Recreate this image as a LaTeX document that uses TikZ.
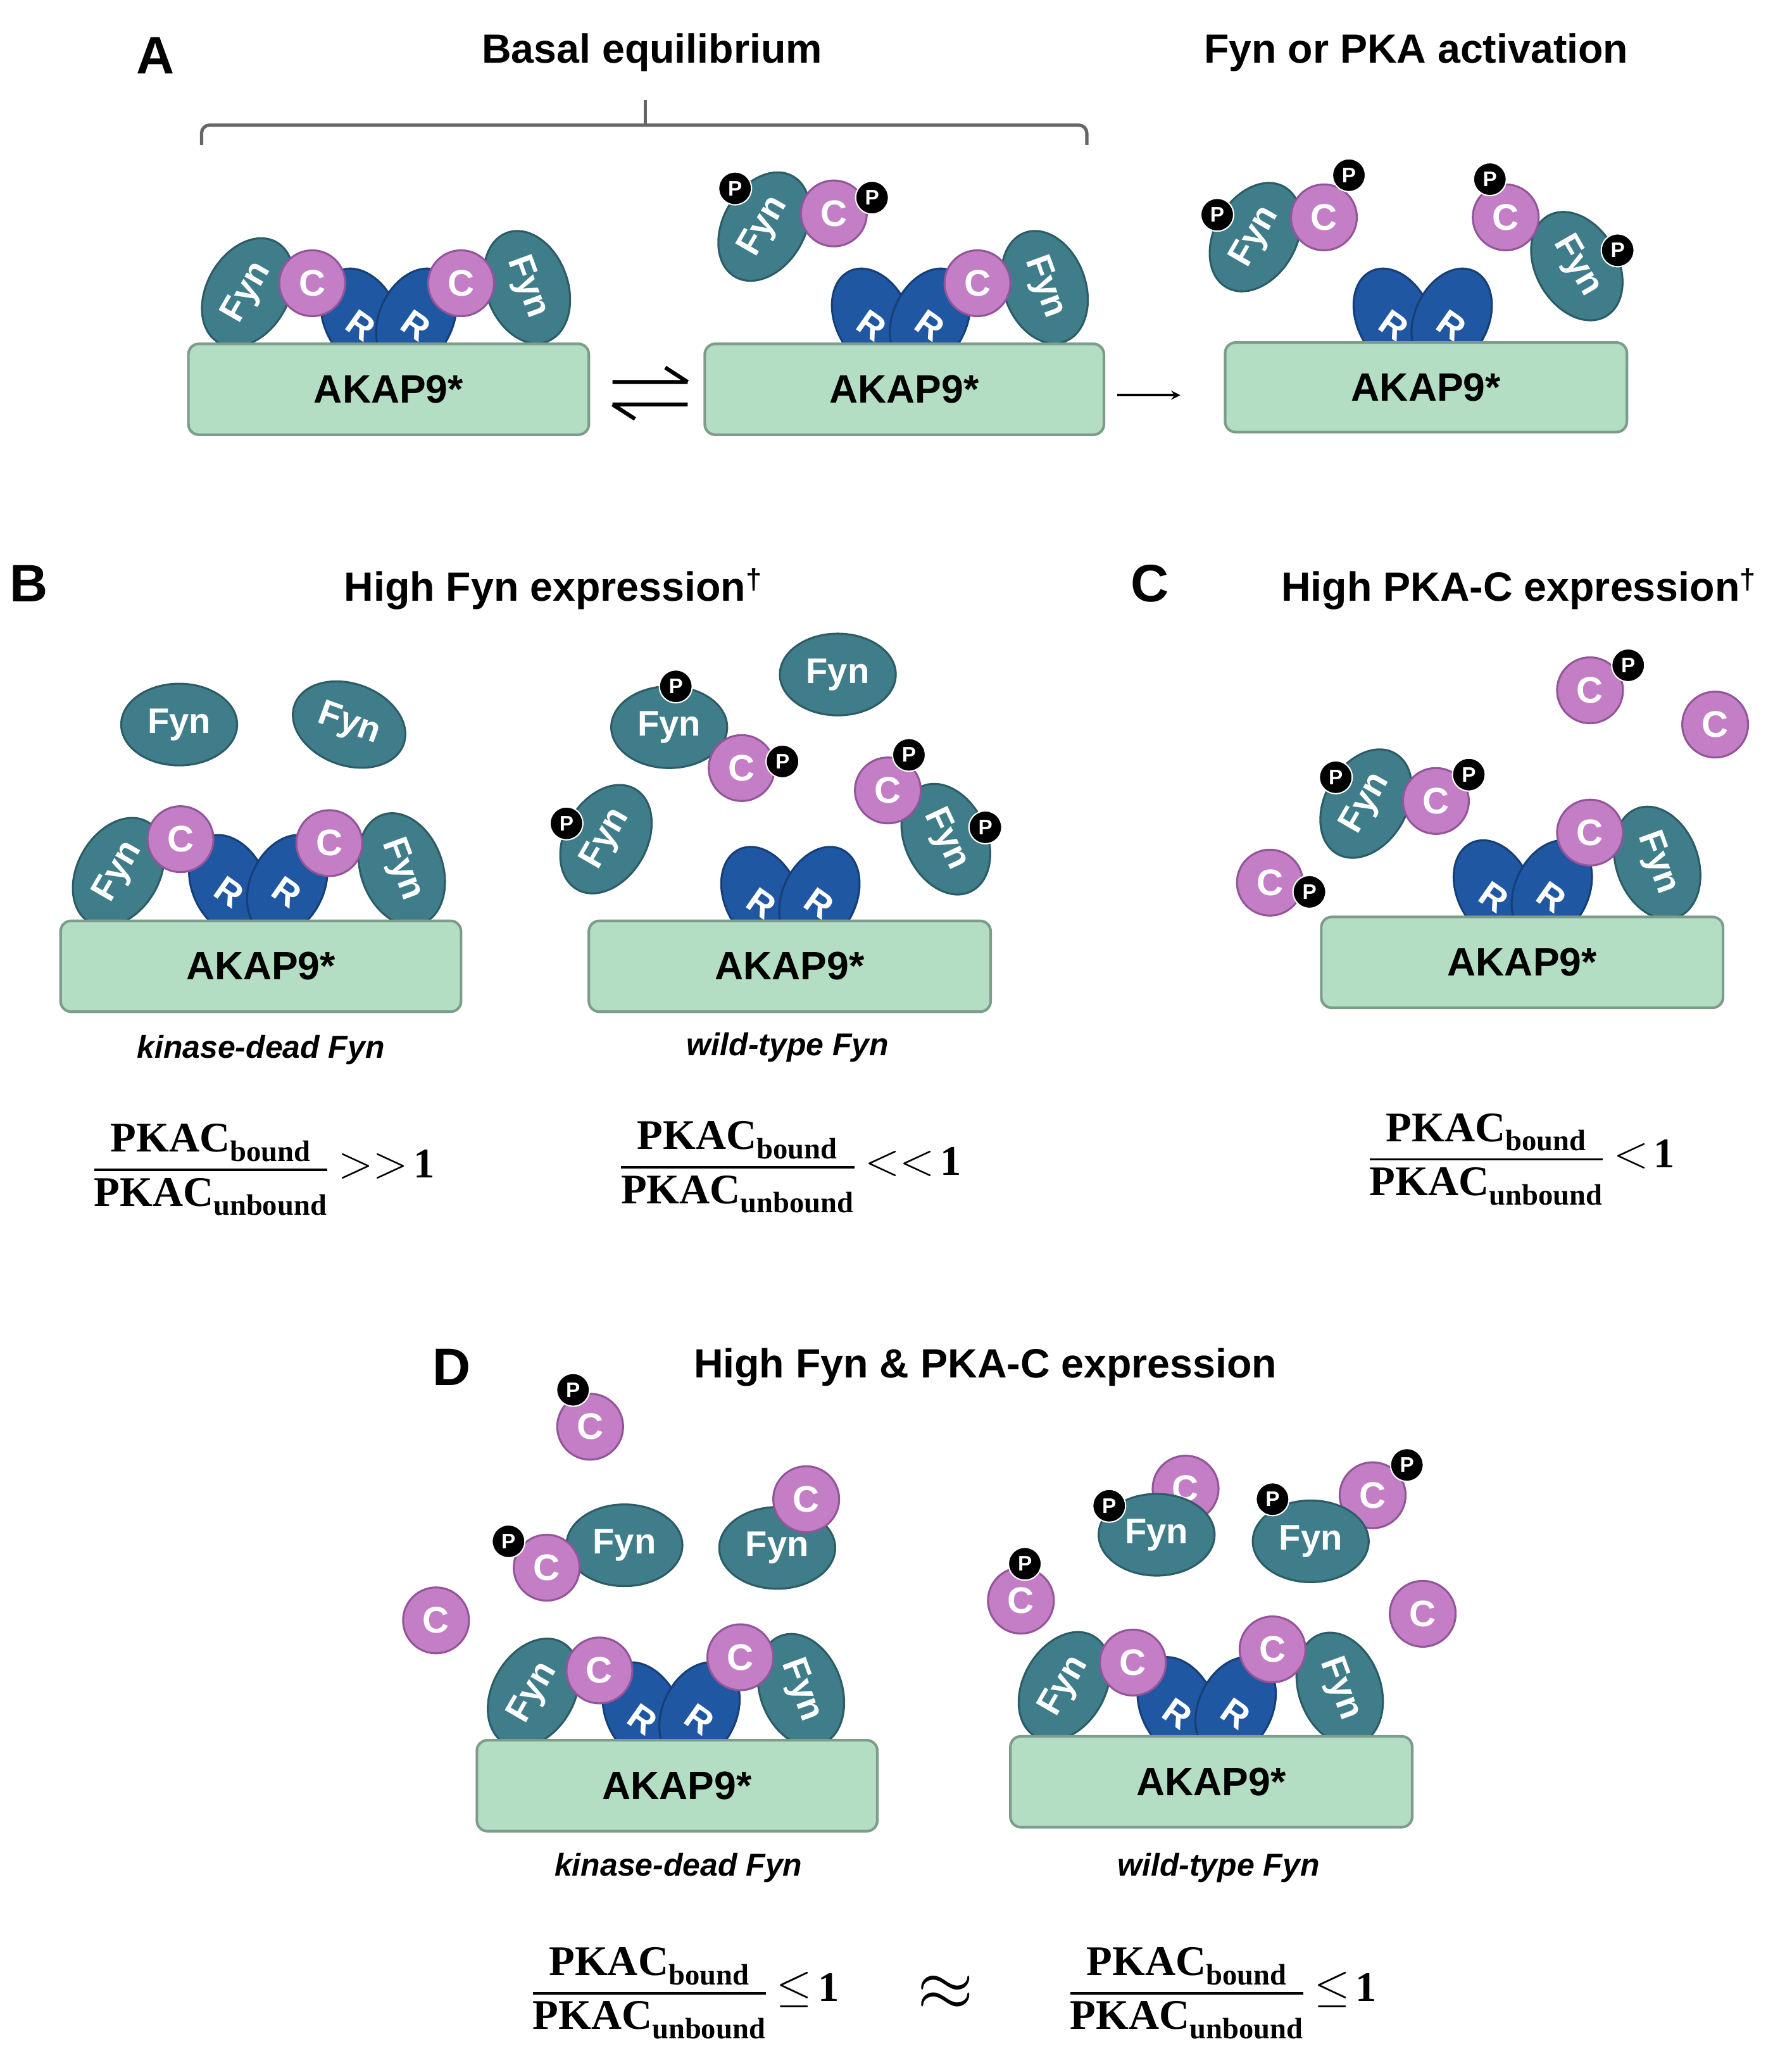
\documentclass[tikz,border=0pt]{standalone}
\usepackage{fontspec}
\setmainfont{Liberation Sans}
\newfontfamily\serifb{Liberation Serif}[BoldFont=* Bold]
\usetikzlibrary{shapes.geometric}
\definecolor{fync}{HTML}{3E7D89}
\definecolor{fynb}{HTML}{2C5C66}
\definecolor{cc}{HTML}{C47EC6}
\definecolor{cb}{HTML}{93559A}
\definecolor{rc}{HTML}{1F57A3}
\definecolor{rb}{HTML}{163F78}
\definecolor{boxc}{HTML}{B3DEC4}
\definecolor{boxb}{HTML}{7E9C8A}
\tikzset{
 fyn/.style={ellipse,fill=fync,draw=fynb,line width=1.5pt,minimum width=88pt,minimum height=62pt,inner sep=0pt,text=white,font=\fontsize{27}{30}\selectfont\bfseries},
 cprot/.style={circle,fill=cc,draw=cb,line width=1.5pt,minimum size=50pt,inner sep=0pt,text=white,font=\fontsize{28}{30}\selectfont\bfseries},
 rprot/.style={ellipse,fill=rc,draw=rb,line width=1.5pt,minimum width=56pt,minimum height=80pt,inner sep=0pt},
 rlab/.style={text=white,font=\fontsize{27}{30}\selectfont\bfseries,rotate=-35},
 pprot/.style={circle,fill=black,draw=white,line width=1pt,minimum size=25pt,inner sep=0pt,text=white,font=\fontsize{16}{18}\selectfont\bfseries},
 akapbox/.style={fill=boxc,draw=boxb,line width=2pt,rounded corners=8pt},
 akaptxt/.style={font=\fontsize{30}{34}\selectfont\bfseries},
 ttl/.style={font=\fontsize{31}{36}\selectfont\bfseries},
 letter/.style={font=\fontsize{40}{44}\selectfont\bfseries},
 sub/.style={font=\fontsize{24}{28}\selectfont\bfseries\itshape},
 frac/.style={font=\fontsize{32}{36}\selectfont\serifb\bfseries},
}
\newcommand\Fyn[3]{\node[fyn,rotate=#3] at (#1,#2) {Fyn};}
\newcommand\Cp[2]{\node[cprot] at (#1,#2) {C};}
\newcommand\Pp[2]{\node[pprot] at (#1,#2) {P};}
\newcommand\Rp[3]{\node[rprot,rotate=#3] at (#1,#2) {};\node[rlab] at (#1,#2+5) {R};}
\newcommand\akap[4]{\draw[akapbox] (#1,#2) rectangle (#3,#4);\node[akaptxt] at ({(#1+#3)/2},{(#2+#4)/2}) {AKAP9*};}
\newcommand\Frac[3]{\node[frac] at (#1,#2) {$\displaystyle{\hbox{PKAC\textsubscript{bound}}\above 1.8pt\hbox{PKAC\textsubscript{unbound}}}\;\scalebox{1.4}{$#3$}\,\hbox{1}$};}
\begin{document}
\begin{tikzpicture}[x=1pt,y=-1pt]
\useasboundingbox (0,0) rectangle (1360,1566);
% ---------- A
\node[letter] (la) at (118,42) {A};
\node[ttl] (t1) at (495,40) {Basal equilibrium};
\node[ttl] (t2) at (1075,40) {Fyn or PKA activation};
\draw[gray!80!black,line width=2.5pt,rounded corners=6pt] (153,110)--(153,95)--(825,95)--(825,110);
\draw[gray!80!black,line width=2.5pt] (490,95)--(490,76);
% complex 1
\Fyn{188}{222}{60}\Fyn{400}{218}{-70}
\Rp{274}{242}{25}\Rp{316}{242}{-25}
\Cp{237}{215}\Cp{350}{215}
\akap{143}{261}{447}{330}
% equilibrium
\draw[line width=3pt] (465,290)--(522,290) (522,290)--(505,279);
\draw[line width=3pt] (522,307)--(465,307) (465,307)--(482,318);
% complex 2
\Fyn{580}{172}{60}\Pp{558}{143}
\Cp{633}{162}\Pp{662}{150}
\Fyn{793}{218}{-70}
\Rp{662}{242}{25}\Rp{706}{242}{-25}
\Cp{742}{215}
\akap{535}{261}{838}{330}
\draw[line width=2pt,-stealth] (848,300)--(896,300);
% complex 3
\Fyn{953}{180}{60}\Pp{924}{163}
\Cp{1005}{165}\Pp{1024}{133}
\Fyn{1197}{202}{-60}\Pp{1228}{190}
\Cp{1143}{165}\Pp{1131}{136}
\Rp{1058}{242}{25}\Rp{1102}{242}{-25}
\akap{930}{260}{1235}{328}
% ---------- B
\node[letter] (lb) at (22,443) {B};
\node[ttl] (t3) at (420,447) {High Fyn expression\textsuperscript{\dag}};
\Fyn{136}{550}{0}\Fyn{265}{550}{-20}
\Fyn{90}{662}{60}\Fyn{305}{660}{-70}
\Rp{174}{672}{25}\Rp{218}{672}{-25}
\Cp{137}{637}\Cp{250}{640}
\akap{46}{699}{350}{768}
\node[sub] (s1) at (198,797) {kinase-dead Fyn};
\Frac{200}{888}{>>}
\Fyn{636}{512}{0}
\Fyn{508}{552}{0}\Pp{513}{521}
\Cp{563}{583}\Pp{594}{578}
\Fyn{460}{637}{60}\Pp{430}{625}
\Fyn{718}{637}{-65}\Pp{748}{628}
\Cp{674}{600}\Pp{690}{573}
\Rp{578}{681}{25}\Rp{622}{681}{-25}
\akap{447}{699}{752}{768}
\node[sub] (s2) at (598,795) {wild-type Fyn};
\Frac{600}{886}{<<}
% ---------- C
\node[letter] (lc) at (873,443) {C};
\node[ttl] (t4) at (1153,447) {High PKA-C expression\textsuperscript{\dag}};
\Cp{1207}{524}\Pp{1236}{505}
\Cp{1302}{550}
\Fyn{1037}{610}{60}\Pp{1014}{590}
\Cp{1090}{608}\Pp{1115}{588}
\Cp{964}{670}\Pp{994}{677}
\Fyn{1258}{655}{-70}
\Rp{1134}{676}{25}\Rp{1178}{676}{-25}
\Cp{1207}{632}
\akap{1003}{696}{1308}{765}
\Frac{1155}{880}{<}
% ---------- D
\node[letter] (ld) at (343,1038) {D};
\node[ttl] (t5) at (748,1038) {High Fyn \& PKA-C expression};
\Cp{448}{1083}\Pp{435}{1055}
\Cp{331}{1230}
\Fyn{474}{1173}{0}
\Cp{415}{1190}\Pp{386}{1170}
\Fyn{590}{1175}{0}\Cp{612}{1138}
\Fyn{405}{1285}{60}\Fyn{608}{1283}{-70}
\Rp{488}{1300}{25}\Rp{531}{1300}{-25}
\Cp{455}{1268}\Cp{562}{1258}
\akap{362}{1321}{666}{1390}
\node[sub] (s3) at (515,1418) {kinase-dead Fyn};
\Cp{775}{1215}\Pp{778}{1187}
\Cp{900}{1130}
\Fyn{878}{1165}{0}\Pp{842}{1143}
\Cp{1042}{1135}\Pp{1068}{1112}
\Fyn{995}{1170}{0}\Pp{966}{1138}
\Cp{1080}{1225}
\Fyn{808}{1280}{60}\Fyn{1017}{1282}{-70}
\Rp{894}{1296}{25}\Rp{938}{1296}{-25}
\Cp{860}{1262}\Cp{966}{1252}
\akap{767}{1318}{1072}{1387}
\node[sub] (s4) at (925,1418) {wild-type Fyn};
\Frac{520}{1513}{\leq}
\node[font=\fontsize{32}{36}\selectfont] (approx) at (718,1513) {\scalebox{2.2}{$\approx$}};
\Frac{928}{1513}{\leq}
\end{tikzpicture}
\end{document}
